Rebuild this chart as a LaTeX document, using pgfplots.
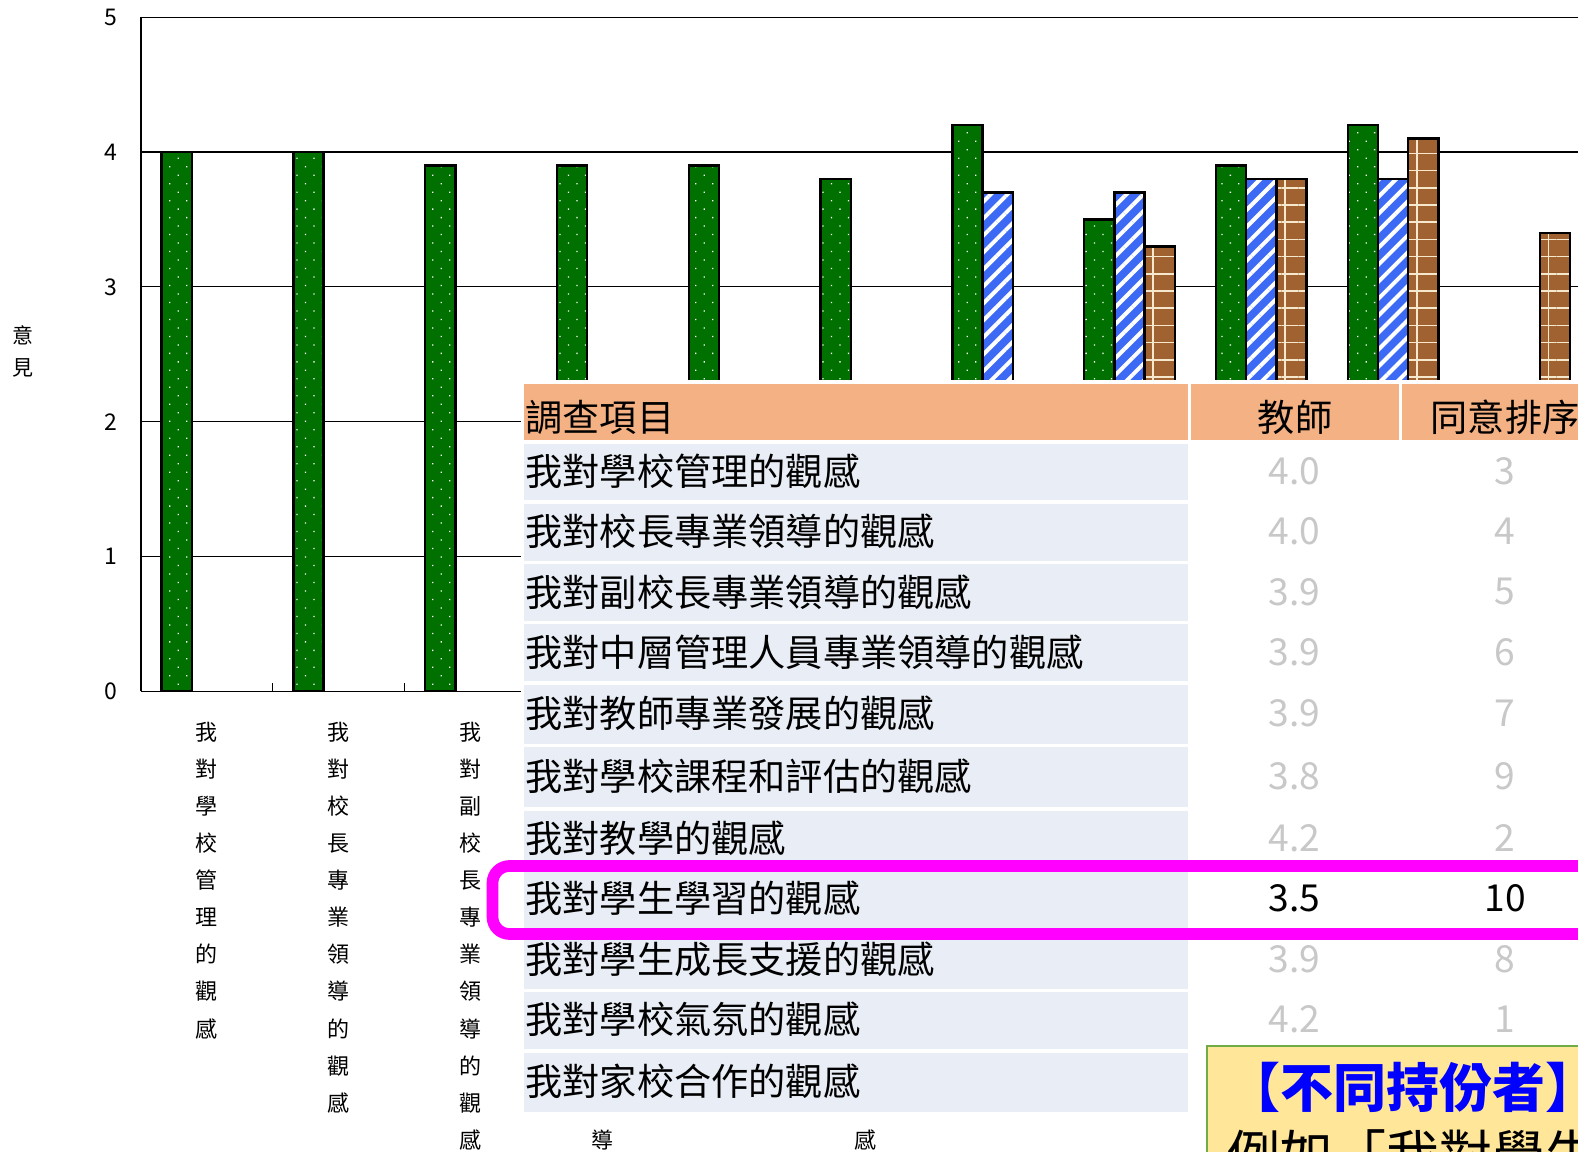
\documentclass[border=0pt]{standalone}
\usepackage{fontspec}
\setmainfont{Noto Sans CJK TC}
\usepackage{pgfplots}
\usepackage{pgfplotstable}
\pgfplotsset{compat=1.18}
\usetikzlibrary{patterns,patterns.meta}
\definecolor{cgreen}{RGB}{0,112,0}
\definecolor{cblue}{RGB}{61,106,245}
\definecolor{cbrown}{RGB}{160,98,48}
\definecolor{cbrick}{RGB}{245,232,205}
\definecolor{hdr}{RGB}{244,177,131}
\definecolor{rowbg}{RGB}{233,237,245}
\definecolor{numgrey}{RGB}{200,200,200}
\definecolor{cmag}{RGB}{255,0,255}
\definecolor{callfill}{RGB}{255,230,153}
\definecolor{callborder}{RGB}{112,173,71}
\newcommand\tbl{\fontsize{18.6}{20}\selectfont}
\pgfplotstableread{
x y
1 4.0
2 4.0
3 3.9
4 3.9
5 3.9
6 3.8
7 4.2
8 3.5
9 3.9
10 4.2
}\teacher
\pgfplotstableread{
x y
7 3.7
8 3.7
9 3.8
10 3.8
}\student
\pgfplotstableread{
x y
8 3.3
9 3.8
10 4.1
11 3.4
}\parent
\begin{document}
\begin{tikzpicture}
\begin{axis}[
  at={(70.5pt,229.8pt)}, anchor=south west,
  scale only axis, width=724.9pt, height=337.15pt,
  xmin=0.5, xmax=11.5, ymin=0, ymax=5,
  ybar, bar width=15.1pt,
  axis x line*=bottom, axis y line*=left,
  axis line style={black, line width=0.7pt},
  xtick={1,...,11},
  xticklabels={
    {我\\對\\學\\校\\管\\理\\的\\觀\\感},
    {我\\對\\校\\長\\專\\業\\領\\導\\的\\觀\\感},
    {我\\對\\副\\校\\長\\專\\業\\領\\導\\的\\觀\\感},
    {我\\對\\中\\層\\管\\理\\人\\員\\專\\業\\領\\導\\的\\觀\\感},
    {我\\對\\教\\師\\專\\業\\發\\展\\的\\觀\\感},
    {我\\對\\學\\校\\課\\程\\和\\評\\估\\的\\觀\\感},
    {我\\對\\教\\學\\的\\觀\\感},
    {我\\對\\學\\生\\學\\習\\的\\觀\\感},
    {我\\對\\學\\生\\成\\長\\支\\援\\的\\觀\\感},
    {我\\對\\學\\校\\氣\\氛\\的\\觀\\感},
    {我\\對\\家\\校\\合\\作\\的\\觀\\感}},
  major x tick style={draw=none},
  minor xtick={1.5,2.5,...,10.5},
  minor tick length=4pt,
  xtick align=inside,
  minor x tick style={black, line width=0.5pt},
  xticklabel style={font=\fontsize{11}{18.54}\selectfont, align=center, anchor=north, inner sep=0pt, yshift=-15.15pt},
  ytick={0,1,2,3,4,5},
  major y tick style={draw=none},
  yticklabel style={font=\fontsize{11.5}{12}\selectfont, anchor=east, inner sep=0pt, xshift=-11.5pt},
  /pgf/number format/assume math mode=true,
  ymajorgrids,
  major grid style={black, line width=0.6pt},
]
% teacher
\addplot[bar shift=-15.1pt, fill=cgreen, draw=none] table[x=x,y=y] {\teacher};
\addplot[bar shift=-15.1pt, draw=none, pattern={Dots[distance=6pt, angle=45, radius=0.45pt]}, pattern color=white] table[x=x,y=y] {\teacher};
\addplot[bar shift=-15.1pt, fill=none, draw=black, line width=1.2pt] table[x=x,y=y] {\teacher};
% student
\addplot[bar shift=0pt, fill=cblue, draw=none] table[x=x,y=y] {\student};
\addplot[bar shift=0pt, draw=none, pattern={Lines[angle=45, distance=6pt, line width=2pt]}, pattern color=white] table[x=x,y=y] {\student};
\addplot[bar shift=0pt, fill=none, draw=black, line width=1.2pt] table[x=x,y=y] {\student};
% parent
\addplot[bar shift=15.1pt, fill=cbrown, draw=none] table[x=x,y=y] {\parent};
\addplot[bar shift=15.1pt, draw=none, pattern={Lines[angle=0, distance=8.6pt, line width=0.8pt]}, pattern color=cbrick] table[x=x,y=y] {\parent};
\addplot[bar shift=15.1pt, draw=none, pattern={Lines[angle=90, distance=16.475pt, line width=0.8pt]}, pattern color=cbrick] table[x=x,y=y] {\parent};
\addplot[bar shift=15.1pt, fill=none, draw=black, line width=1.2pt] table[x=x,y=y] {\parent};
\end{axis}
\begin{scope}[x=0.5pt, y=-0.5pt, shift={(0,-1151)}]
  % y label
  \node[align=center, font=\fontsize{10.5}{16}\selectfont, inner sep=0pt] at (23,351) {意\\見};
  % table backdrop
  \fill[white] (521,380.5) rectangle (1640,1113);
  \fill[hdr] (524,384) rectangle (1187.5,440);
  \fill[hdr] (1190.5,384) rectangle (1398.5,440);
  \fill[hdr] (1401.5,384) rectangle (1640,440);
  \node[anchor=west, inner sep=0pt, font=\tbl] at (525,417) {調查項目};
  \node[inner sep=0pt, font=\tbl] at (1295,417) {教師};
  \node[inner sep=0pt, font=\tbl] at (1505,417) {同意排序};
  \foreach \t/\b/\txt/\v/\r/\c in {
    444/500.5/我對學校管理的觀感/4.0/3/numgrey,
    504/561/我對校長專業領導的觀感/4.0/4/numgrey,
    564.5/621/我對副校長專業領導的觀感/3.9/5/numgrey,
    624.5/681/我對中層管理人員專業領導的觀感/3.9/6/numgrey,
    685/744/我對教師專業發展的觀感/3.9/7/numgrey,
    747.5/807/我對學校課程和評估的觀感/3.8/9/numgrey,
    811/867/我對教學的觀感/4.2/2/numgrey,
    870.5/928/我對學生學習的觀感/3.5/10/black,
    931.5/988.5/我對學生成長支援的觀感/3.9/8/numgrey,
    992/1048.5/我對學校氣氛的觀感/4.2/1/numgrey,
    1052.5/1111.5/我對家校合作的觀感//{}/numgrey}{
    \fill[rowbg] (524,\t) rectangle (1187.5,\b);
    \pgfmathsetmacro\m{(\t+\b)/2-1}
    \node[anchor=west, inner sep=0pt, font=\tbl] at (525,\m) {\txt};
    \node[inner sep=0pt, font=\tbl, text=\c] at (1294.5,\m) {\v};
    \node[inner sep=0pt, font=\tbl, text=\c] at (1505,\m) {\r};
  }
  % highlight
  \draw[cmag, line width=5.85pt, rounded corners=8.5pt] (492.5,866) rectangle (1660,934);
  % callout
  \draw[callborder, fill=callfill, line width=1pt] (1206.5,1046) rectangle (1660,1220);
  \node[anchor=west, inner sep=0pt, font=\fontsize{26.5}{30}\selectfont\bfseries, text=blue] at (1227,1087) {【不同持份者】};
  \node[anchor=west, inner sep=0pt, font=\fontsize{26.5}{30}\selectfont] at (1227,1154) {例如「我對學生學習的觀感」};
  \pgfresetboundingbox
  \path[use as bounding box] (0,0) rectangle (1578,1151);
\end{scope}
\end{tikzpicture}
\end{document}
